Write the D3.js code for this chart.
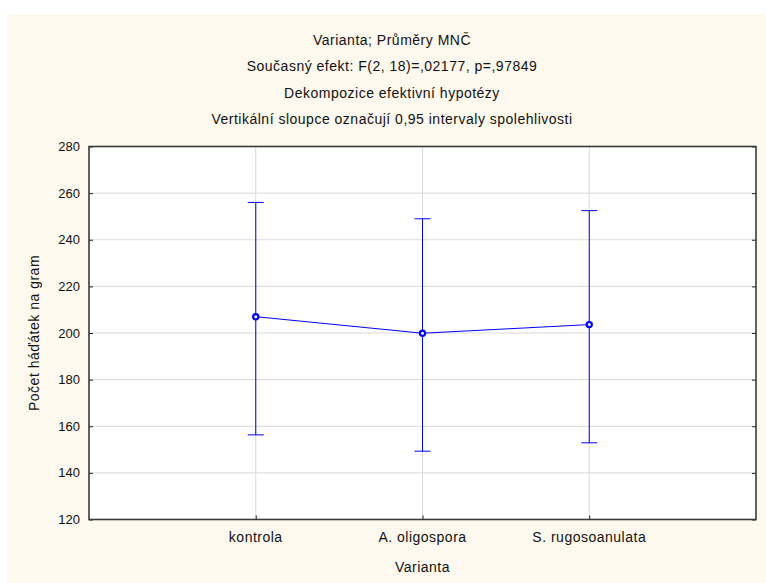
<!DOCTYPE html>
<html>
<head>
<meta charset="utf-8">
<script src="https://cdn.jsdelivr.net/npm/d3@7"></script>
<style>
  body { margin: 0; background: #fff; }
  text { font-family: "Liberation Sans", Arial, sans-serif; fill: #111; }
  .lbl { font-size: 14px; letter-spacing: 0.5px; }
</style>
</head>
<body>
<div id="chart"></div>
<script>
// Data //
const categories = ["kontrola", "A. oligospora", "S. rugosoanulata"]
const means = [207.0, 199.9, 203.6]
const upper = [256.0, 249.0, 252.5]
const lower = [156.3, 149.3, 152.9]
const yTicks = [120, 140, 160, 180, 200, 220, 240, 260, 280]
const titles = [
  "Varianta; Průměry MNČ",
  "Současný efekt: F(2, 18)=,02177, p=,97849",
  "Dekompozice efektivní hypotézy",
  "Vertikální sloupce označují 0,95 intervaly spolehlivosti"
]

const width = 766, height = 583
const margin = {top: 146.5, right: 10, bottom: 63.5, left: 89}
const blue = "#0000ff"

const svg = d3.select("#chart").append("svg")
    .attr("width", width)
    .attr("height", height)

// Fundo creme //
svg.append("rect")
    .attr("x", 7).attr("y", 14)
    .attr("width", width - 7).attr("height", height - 14)
    .attr("fill", "#fef9ee")

const x = d3.scaleLinear().domain([0, categories.length + 1]).range([margin.left, width - margin.right])
const y = d3.scaleLinear().domain([120, 280]).range([height - margin.bottom, margin.top])

svg.append("rect")
    .attr("x", x(0)).attr("y", y(280))
    .attr("width", x(4) - x(0)).attr("height", y(120) - y(280))
    .attr("fill", "#fff")

// Grade //
svg.append("g").selectAll("line")
    .data(yTicks.slice(1, -1))
    .enter().append("line")
    .attr("x1", x(0)).attr("x2", x(4))
    .attr("y1", d => y(d)).attr("y2", d => y(d))
    .attr("stroke", "#d9d9d9")

svg.append("g").selectAll("line")
    .data(categories)
    .enter().append("line")
    .attr("x1", (d, i) => x(i + 1)).attr("x2", (d, i) => x(i + 1))
    .attr("y1", y(120)).attr("y2", y(280))
    .attr("stroke", "#d9d9d9")

// Eixos //
const yAxis = svg.append("g")
    .attr("transform", "translate(" + x(0) + ",0)")
    .call(d3.axisRight(y).tickValues(yTicks).tickSize(4).tickFormat(""))
yAxis.select(".domain").remove()

const yAxisR = svg.append("g")
    .attr("transform", "translate(" + x(4) + ",0)")
    .call(d3.axisLeft(y).tickValues(yTicks).tickSize(4).tickFormat(""))
yAxisR.select(".domain").remove()

const xAxis = svg.append("g")
    .attr("transform", "translate(0," + y(120) + ")")
    .call(d3.axisTop(x).tickValues([1, 2, 3]).tickSize(4).tickFormat(""))
xAxis.select(".domain").remove()
svg.selectAll(".tick line").attr("stroke", "#222")

svg.append("g").selectAll("text")
    .data(yTicks)
    .enter().append("text")
    .attr("x", x(0) - 9)
    .attr("y", d => y(d))
    .attr("dy", "0.35em")
    .attr("text-anchor", "end")
    .attr("font-size", 13)
    .text(d => d)

svg.append("g").selectAll("text")
    .data(categories)
    .enter().append("text")
    .attr("class", "lbl")
    .attr("x", (d, i) => x(i + 1))
    .attr("y", y(120) + 18)
    .attr("dy", "0.35em")
    .attr("text-anchor", "middle")
    .text(d => d)

// Moldura //
svg.append("rect")
    .attr("x", x(0)).attr("y", y(280))
    .attr("width", x(4) - x(0)).attr("height", y(120) - y(280))
    .attr("fill", "none")
    .attr("stroke", "#3a3a3a")
    .attr("stroke-width", 1.6)

// Intervalos de confiança //
const bars = svg.append("g")
categories.forEach((c, i) => {
  const cx = x(i + 1)
  bars.append("line")
      .attr("x1", cx).attr("x2", cx)
      .attr("y1", y(lower[i])).attr("y2", y(upper[i]))
      .attr("stroke", blue)
  bars.append("line")
      .attr("x1", cx - 8).attr("x2", cx + 8)
      .attr("y1", y(upper[i])).attr("y2", y(upper[i]))
      .attr("stroke", blue)
  bars.append("line")
      .attr("x1", cx - 8).attr("x2", cx + 8)
      .attr("y1", y(lower[i])).attr("y2", y(lower[i]))
      .attr("stroke", blue)
})

const line = d3.line()
    .x((d, i) => x(i + 1))
    .y(d => y(d))

svg.append("path")
    .datum(means)
    .attr("d", line)
    .attr("fill", "none")
    .attr("stroke", blue)

svg.append("g").selectAll("circle")
    .data(means)
    .enter().append("circle")
    .attr("cx", (d, i) => x(i + 1))
    .attr("cy", d => y(d))
    .attr("r", 2.6)
    .attr("fill", "#fff")
    .attr("stroke", blue)
    .attr("stroke-width", 2.2)

// Títulos //
svg.append("g").selectAll("text")
    .data(titles)
    .enter().append("text")
    .attr("class", "lbl")
    .attr("x", 392)
    .attr("y", (d, i) => 40 + i * 26.5)
    .attr("dy", "0.35em")
    .attr("text-anchor", "middle")
    .text(d => d)

svg.append("text")
    .attr("class", "lbl")
    .attr("x", (x(0) + x(4)) / 2)
    .attr("y", 567)
    .attr("dy", "0.35em")
    .attr("text-anchor", "middle")
    .text("Varianta")

svg.append("text")
    .attr("class", "lbl")
    .attr("transform", "translate(34," + (y(200)) + ") rotate(-90)")
    .attr("dy", "0.35em")
    .attr("text-anchor", "middle")
    .text("Počet háďátek na gram")
</script>
</body>
</html>
